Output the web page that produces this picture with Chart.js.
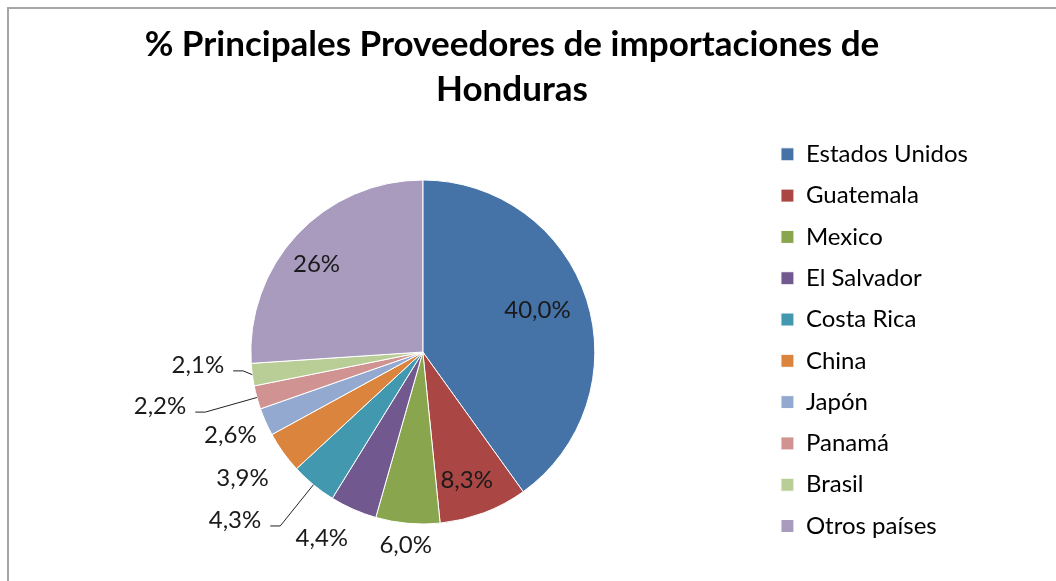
<!DOCTYPE html>
<html>
<head>
<meta charset="utf-8">
<script src="https://cdn.jsdelivr.net/npm/chart.js@4.4.0/dist/chart.umd.min.js"></script>
<style>
  body { margin: 0; background: #fff; overflow: hidden; }
  #frame { position: absolute; left: 7px; top: 7px; width: 1049px; height: 574px;
           border-top: 2px solid #a6a6a6; border-left: 2px solid #a6a6a6; }
  #importChart { position: absolute; left: 0; top: 0; }
</style>
</head>
<body>
<div id="frame"></div>
<canvas id="importChart" width="1056" height="581"></canvas>
<script>
// Paises proveedores y su porcentaje de las importaciones
const countries = ['Estados Unidos', 'Guatemala', 'Mexico', 'El Salvador', 'Costa Rica',
                   'China', 'Japón', 'Panamá', 'Brasil', 'Otros países'];
const shares = [40.0, 8.3, 6.0, 4.4, 4.3, 3.9, 2.6, 2.2, 2.1, 26];
const shareLabels = ['40,0%', '8,3%', '6,0%', '4,4%', '4,3%', '3,9%', '2,6%', '2,2%', '2,1%', '26%'];

const sliceColors = ['#4572A7', '#AA4643', '#89A54E', '#71588F', '#4198AF',
                     '#DB843D', '#93A9CF', '#D19392', '#B9CD96', '#A99BBD'];

// label placement: [radius factor, angle offset in degrees, leader line?]
const labelPlace = [
    [0.71, -2.3, false], [0.79, 1.9, false], [1.13, 0, false], [1.23, 4.7, false],
    [1.465, 8.7, true], [1.28, 0.7, false], [1.22, 0.5, false], [1.56, 3.7, true],
    [1.31, 4.3, true], [0.80, -3.7, false]
];

// the title is centred over the whole frame, not over the pie + legend
const titleShift = {
    id: 'titleShift',
    afterLayout(chart) {
        chart.titleBlock.left = 12;
        chart.titleBlock.right = 1012;
    }
};

const sliceLabels = {
    id: 'sliceLabels',
    afterDatasetsDraw(chart) {
        const ctx = chart.ctx;
        const arcs = chart.getDatasetMeta(0).data;
        ctx.save();
        ctx.font = '24px Lato';
        ctx.fillStyle = '#1a1a1a';
        ctx.textAlign = 'center';
        ctx.textBaseline = 'middle';
        arcs.forEach((arc, i) => {
            const p = arc.getProps(['x', 'y', 'startAngle', 'endAngle', 'outerRadius'], true);
            const mid = (p.startAngle + p.endAngle) / 2;
            const [f, off, leader] = labelPlace[i];
            const a = mid + off * Math.PI / 180;
            const lx = p.x + Math.cos(a) * p.outerRadius * f;
            const ly = p.y + Math.sin(a) * p.outerRadius * f;
            ctx.fillText(shareLabels[i], lx, ly);
            if (leader) {
                const right = lx + ctx.measureText(shareLabels[i]).width / 2;
                ctx.strokeStyle = '#222';
                ctx.lineWidth = 1;
                ctx.beginPath();
                ctx.moveTo(right + 9, ly + 6);
                ctx.lineTo(right + 19, ly + 6);
                ctx.lineTo(p.x + Math.cos(mid) * p.outerRadius, p.y + Math.sin(mid) * p.outerRadius);
                ctx.stroke();
            }
        });
        ctx.restore();
    }
};

new Chart(document.getElementById('importChart'), {
    type: 'pie',
    data: {
        labels: countries,
        datasets: [{
            data: shares,
            backgroundColor: sliceColors,
            borderColor: '#ffffff',
            borderWidth: 1,
            radius: 172
        }]
    },
    options: {
        responsive: false,
        animation: false,
        layout: { padding: { left: 82, right: 78, top: 0, bottom: 2 } },
        plugins: {
            title: {
                display: true,
                text: ['% Principales Proveedores de importaciones de', 'Honduras'],
                color: '#000',
                font: { family: 'Lato', size: 35, weight: 'bold', lineHeight: 1.286 },
                padding: { top: 22.5, bottom: 12.5 }
            },
            legend: {
                position: 'right',
                align: 'start',
                fullSize: false,
                labels: {
                    color: '#000',
                    font: { family: 'Lato', size: 24 },
                    boxWidth: 13,
                    boxHeight: 13,
                    padding: 17.3
                }
            },
            tooltip: { enabled: false }
        }
    },
    plugins: [sliceLabels, titleShift]
});
</script>
</body>
</html>
